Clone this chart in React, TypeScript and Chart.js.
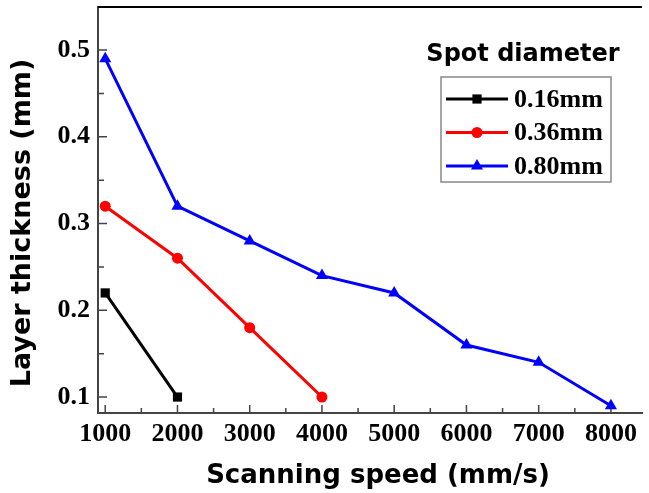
import React, { useEffect, useRef } from 'react';
import { Chart, registerables } from 'chart.js';

Chart.register(...registerables);

// ---- data ----
const speeds = [1000, 2000, 3000, 4000, 5000, 6000, 7000, 8000];
const seriesLabels = ['0.16mm', '0.36mm', '0.80mm'];
const thickness016 = [0.22, 0.1];
const thickness036 = [0.32, 0.26, 0.18, 0.1];
const thickness080 = [0.49, 0.32, 0.28, 0.24, 0.22, 0.16, 0.14, 0.09];
const xTickValues = [1000, 2000, 3000, 4000, 5000, 6000, 7000, 8000];
const xMinorTickValues = [1500, 2500, 3500, 4500, 5500, 6500, 7500];
const yTickValues = [0.1, 0.2, 0.3, 0.4, 0.5];
const yMinorTickValues = [0.15, 0.25, 0.35, 0.45];
const xTitle = 'Scanning speed (mm/s)';
const yTitle = 'Layer thickness (mm)';
const legendTitle = 'Spot diameter';

const toPoints = (vals: number[]) => vals.map((v, i) => ({ x: speeds[i], y: v }));

const SERIF = '"Liberation Serif", "Times New Roman", serif';
const SANS = '"DejaVu Sans", sans-serif';
const AXIS_COLOR = '#444444';

function drawMarker(ctx: CanvasRenderingContext2D, style: string, x: number, y: number, r: number, color: string) {
  ctx.fillStyle = color;
  ctx.beginPath();
  if (style === 'rect') {
    const s = Math.SQRT1_2 * r;
    ctx.rect(x - s, y - s, 2 * s, 2 * s);
  } else if (style === 'triangle') {
    ctx.moveTo(x, y - r);
    ctx.lineTo(x + r * Math.sin(Math.PI / 3), y + r * 0.5);
    ctx.lineTo(x - r * Math.sin(Math.PI / 3), y + r * 0.5);
    ctx.closePath();
  } else {
    ctx.arc(x, y, r, 0, Math.PI * 2);
  }
  ctx.fill();
}

const decorPlugin = {
  id: 'decor',
  beforeDatasetsDraw(chart: any) {
    const { ctx, chartArea, scales } = chart;
    const xs = scales.x;
    const ys = scales.y;
    ctx.save();
    ctx.strokeStyle = AXIS_COLOR;
    ctx.lineWidth = 1.5;
    ctx.beginPath();
    xTickValues.forEach((v) => {
      const px = xs.getPixelForValue(v);
      ctx.moveTo(px, chartArea.bottom);
      ctx.lineTo(px, chartArea.bottom - 8);
    });
    xMinorTickValues.forEach((v) => {
      const px = xs.getPixelForValue(v);
      ctx.moveTo(px, chartArea.bottom);
      ctx.lineTo(px, chartArea.bottom - 5);
    });
    yTickValues.forEach((v) => {
      const py = ys.getPixelForValue(v);
      ctx.moveTo(chartArea.left, py);
      ctx.lineTo(chartArea.left + 9, py);
    });
    yMinorTickValues.forEach((v) => {
      const py = ys.getPixelForValue(v);
      ctx.moveTo(chartArea.left, py);
      ctx.lineTo(chartArea.left + 6, py);
    });
    ctx.stroke();
    // top frame line
    ctx.strokeStyle = '#000';
    ctx.lineWidth = 2;
    ctx.beginPath();
    ctx.moveTo(chartArea.left, chartArea.top);
    ctx.lineTo(chartArea.right, chartArea.top);
    ctx.stroke();
    ctx.restore();
  },
  afterDraw(chart: any) {
    const { ctx } = chart;
    ctx.save();
    ctx.fillStyle = '#000';
    // axis titles
    ctx.font = `bold 26px ${SANS}`;
    ctx.textAlign = 'center';
    ctx.textBaseline = 'alphabetic';
    ctx.fillText(xTitle, 378, 483);
    ctx.save();
    ctx.translate(30, 223);
    ctx.rotate(-Math.PI / 2);
    ctx.font = `bold 27px ${SANS}`;
    ctx.fillText(yTitle, 0, 0);
    ctx.restore();
    // legend title
    ctx.font = `bold 24px ${SANS}`;
    ctx.fillText(legendTitle, 523, 61);
    // legend box
    ctx.strokeStyle = '#888888';
    ctx.lineWidth = 1.5;
    ctx.strokeRect(441, 77, 170, 105);
    chart.data.datasets.forEach((ds: any, i: number) => {
      const cy = 99 + i * 33.5;
      ctx.strokeStyle = ds.borderColor;
      ctx.lineWidth = ds.borderWidth;
      ctx.beginPath();
      ctx.moveTo(446, cy);
      ctx.lineTo(508, cy);
      ctx.stroke();
      drawMarker(ctx, ds.pointStyle, 477, cy, ds.pointRadius, ds.borderColor);
      ctx.fillStyle = '#000';
      ctx.font = `bold 26px ${SERIF}`;
      ctx.textAlign = 'left';
      ctx.textBaseline = 'alphabetic';
      ctx.fillText(ds.label, 514, cy + 7.5);
    });
    ctx.restore();
  },
};

export default function App() {
  const canvasRef = useRef<HTMLCanvasElement | null>(null);

  useEffect(() => {
    const canvas = canvasRef.current;
    if (!canvas) return;
    const colors = ['#000000', '#ff0000', '#0000ff'];
    const styles = ['rect', 'circle', 'triangle'];
    const radii = [6.5, 5.5, 7];
    const values = [thickness016, thickness036, thickness080];
    const chart = new Chart(canvas, {
      type: 'line',
      data: {
        datasets: values.map((vals, i) => ({
          label: seriesLabels[i],
          data: toPoints(vals),
          borderColor: colors[i],
          backgroundColor: colors[i],
          borderWidth: 3,
          pointStyle: styles[i],
          pointRadius: radii[i],
          pointBorderWidth: 0,
          pointBackgroundColor: colors[i],
          tension: 0,
        })),
      },
      options: {
        animation: false,
        responsive: false,
        devicePixelRatio: 1,
        layout: { padding: { left: 0, top: 7, right: 0, bottom: 0 } },
        plugins: {
          legend: { display: false },
          tooltip: { enabled: false },
          title: { display: false },
        },
        scales: {
          x: {
            type: 'linear',
            min: 900,
            max: 8430,
            afterFit: (s: any) => {
              s.height = 80;
              s.paddingLeft = 0;
              s.paddingRight = 0;
            },
            afterBuildTicks: (s: any) => {
              s.ticks = xTickValues.map((v) => ({ value: v }));
            },
            grid: { display: false, drawTicks: false },
            border: { display: true, color: AXIS_COLOR, width: 2 },
            ticks: {
              padding: 6,
              color: '#000',
              maxRotation: 0,
              autoSkip: false,
              font: { family: SERIF, size: 26, weight: 'bold' },
              callback: (v: any) => String(v),
            },
          },
          y: {
            type: 'linear',
            min: 0.0816,
            max: 0.5496,
            afterFit: (s: any) => {
              s.width = 98;
              s.paddingTop = 0;
              s.paddingBottom = 0;
            },
            afterBuildTicks: (s: any) => {
              s.ticks = yTickValues.map((v) => ({ value: v }));
            },
            grid: { display: false, drawTicks: false },
            border: { display: true, color: AXIS_COLOR, width: 2 },
            ticks: {
              padding: 8,
              color: '#000',
              autoSkip: false,
              font: { family: SERIF, size: 26, weight: 'bold' },
              callback: (v: any) => Number(v).toFixed(1),
            },
          },
        },
      } as any,
      plugins: [decorPlugin],
    });
    return () => chart.destroy();
  }, []);

  return (
    <div style={{ position: 'absolute', left: 0, top: 0, width: 649, height: 493, background: '#fff' }}>
      <canvas ref={canvasRef} width={649} height={493} style={{ display: 'block', width: 649, height: 493 }} />
    </div>
  );
}
